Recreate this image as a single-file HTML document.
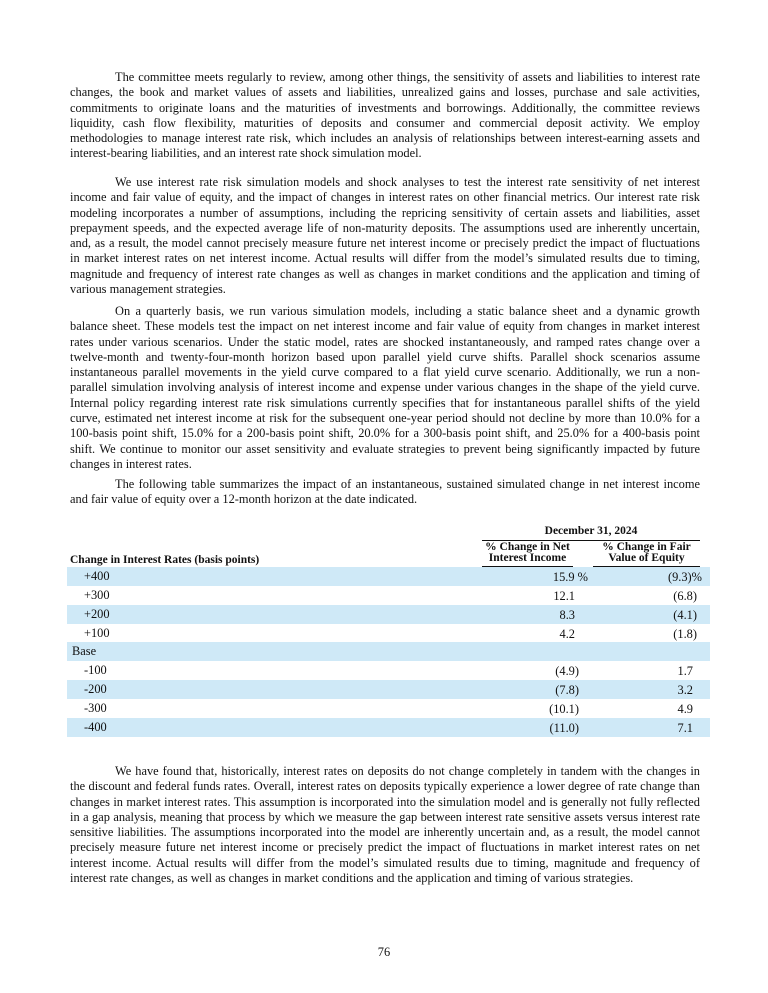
<!DOCTYPE html>
<html><head><meta charset="utf-8"><style>
body{margin:0;background:#fff;}
#p{position:relative;width:768px;height:993px;overflow:hidden;font-family:"Liberation Serif",serif;font-size:12.4px;color:#111;}
.b{position:absolute;left:70px;width:630px;line-height:15.3px;}
.b div{text-align:justify;text-align-last:justify;white-space:nowrap;}
.b div.l{text-align-last:left;}
.b div.i{padding-left:45px;}
.a{position:absolute;white-space:nowrap;line-height:15px;}
.row{position:absolute;left:67px;width:643px;height:19px;}
.sh{background:#cfe9f7;}
.lab{position:absolute;top:2px;}
.v1{position:absolute;right:135px;top:3px;}
.v2{position:absolute;right:13px;top:3px;}
.bd{font-weight:bold;font-size:11.5px;}
</style></head><body><div id="p">

<div class="b" style="top:70px">
<div class="i">The committee meets regularly to review, among other things, the sensitivity of assets and liabilities to interest rate</div>
<div>changes, the book and market values of assets and liabilities, unrealized gains and losses, purchase and sale activities,</div>
<div>commitments to originate loans and the maturities of investments and borrowings. Additionally, the committee reviews</div>
<div>liquidity, cash flow flexibility, maturities of deposits and consumer and commercial deposit activity. We employ</div>
<div>methodologies to manage interest rate risk, which includes an analysis of relationships between interest-earning assets and</div>
<div class="l">interest-bearing liabilities, and an interest rate shock simulation model.</div>
</div>

<div class="b" style="top:175px">
<div class="i">We use interest rate risk simulation models and shock analyses to test the interest rate sensitivity of net interest</div>
<div>income and fair value of equity, and the impact of changes in interest rates on other financial metrics. Our interest rate risk</div>
<div>modeling incorporates a number of assumptions, including the repricing sensitivity of certain assets and liabilities, asset</div>
<div>prepayment speeds, and the expected average life of non-maturity deposits. The assumptions used are inherently uncertain,</div>
<div>and, as a result, the model cannot precisely measure future net interest income or precisely predict the impact of fluctuations</div>
<div>in market interest rates on net interest income. Actual results will differ from the model’s simulated results due to timing,</div>
<div>magnitude and frequency of interest rate changes as well as changes in market conditions and the application and timing of</div>
<div class="l">various management strategies.</div>
</div>

<div class="b" style="top:304px">
<div class="i">On a quarterly basis, we run various simulation models, including a static balance sheet and a dynamic growth</div>
<div>balance sheet. These models test the impact on net interest income and fair value of equity from changes in market interest</div>
<div>rates under various scenarios. Under the static model, rates are shocked instantaneously, and ramped rates change over a</div>
<div>twelve-month and twenty-four-month horizon based upon parallel yield curve shifts. Parallel shock scenarios assume</div>
<div>instantaneous parallel movements in the yield curve compared to a flat yield curve scenario. Additionally, we run a non-</div>
<div>parallel simulation involving analysis of interest income and expense under various changes in the shape of the yield curve.</div>
<div>Internal policy regarding interest rate risk simulations currently specifies that for instantaneous parallel shifts of the yield</div>
<div>curve, estimated net interest income at risk for the subsequent one-year period should not decline by more than 10.0% for a</div>
<div>100-basis point shift, 15.0% for a 200-basis point shift, 20.0% for a 300-basis point shift, and 25.0% for a 400-basis point</div>
<div>shift. We continue to monitor our asset sensitivity and evaluate strategies to prevent being significantly impacted by future</div>
<div class="l">changes in interest rates.</div>
</div>

<div class="b" style="top:477px">
<div class="i">The following table summarizes the impact of an instantaneous, sustained simulated change in net interest income</div>
<div class="l">and fair value of equity over a 12-month horizon at the date indicated.</div>
</div>

<div class="a bd" style="left:482px;width:218px;text-align:center;top:524px">December 31, 2024</div>
<div style="position:absolute;left:482px;width:218px;top:540px;height:1px;background:#111"></div>
<div class="a bd" style="left:482px;width:91px;text-align:center;top:542px;line-height:11px">% Change in Net<br>Interest Income</div>
<div class="a bd" style="left:593px;width:107px;text-align:center;top:542px;line-height:11px">% Change in Fair<br>Value of Equity</div>
<div style="position:absolute;left:482px;width:91px;top:566px;height:1px;background:#111"></div>
<div style="position:absolute;left:593px;width:107px;top:566px;height:1px;background:#111"></div>
<div class="a bd" style="left:70px;top:553px">Change in Interest Rates (basis points)</div>

<div class="row sh" style="top:567px"><span class="lab" style="left:17px">+400</span><span class="v1" style="right:122px">15.9 %</span><span class="v2" style="right:8px">(9.3)%</span></div>
<div class="row" style="top:586px"><span class="lab" style="left:17px">+300</span><span class="v1">12.1</span><span class="v2">(6.8)</span></div>
<div class="row sh" style="top:605px"><span class="lab" style="left:17px">+200</span><span class="v1">8.3</span><span class="v2">(4.1)</span></div>
<div class="row" style="top:624px"><span class="lab" style="left:17px">+100</span><span class="v1">4.2</span><span class="v2">(1.8)</span></div>
<div class="row sh" style="top:642px"><span class="lab" style="left:5px">Base</span></div>
<div class="row" style="top:661px"><span class="lab" style="left:17px">-100</span><span class="v1" style="right:131px">(4.9)</span><span class="v2" style="right:17px">1.7</span></div>
<div class="row sh" style="top:680px"><span class="lab" style="left:17px">-200</span><span class="v1" style="right:131px">(7.8)</span><span class="v2" style="right:17px">3.2</span></div>
<div class="row" style="top:699px"><span class="lab" style="left:17px">-300</span><span class="v1" style="right:131px">(10.1)</span><span class="v2" style="right:17px">4.9</span></div>
<div class="row sh" style="top:718px"><span class="lab" style="left:17px">-400</span><span class="v1" style="right:131px">(11.0)</span><span class="v2" style="right:17px">7.1</span></div>

<div class="b" style="top:764px">
<div class="i">We have found that, historically, interest rates on deposits do not change completely in tandem with the changes in</div>
<div>the discount and federal funds rates. Overall, interest rates on deposits typically experience a lower degree of rate change than</div>
<div>changes in market interest rates. This assumption is incorporated into the simulation model and is generally not fully reflected</div>
<div>in a gap analysis, meaning that process by which we measure the gap between interest rate sensitive assets versus interest rate</div>
<div>sensitive liabilities. The assumptions incorporated into the model are inherently uncertain and, as a result, the model cannot</div>
<div>precisely measure future net interest income or precisely predict the impact of fluctuations in market interest rates on net</div>
<div>interest income. Actual results will differ from the model’s simulated results due to timing, magnitude and frequency of</div>
<div class="l">interest rate changes, as well as changes in market conditions and the application and timing of various strategies.</div>
</div>

<div class="a" style="left:0;width:768px;text-align:center;top:945px">76</div>
</div></body></html>
